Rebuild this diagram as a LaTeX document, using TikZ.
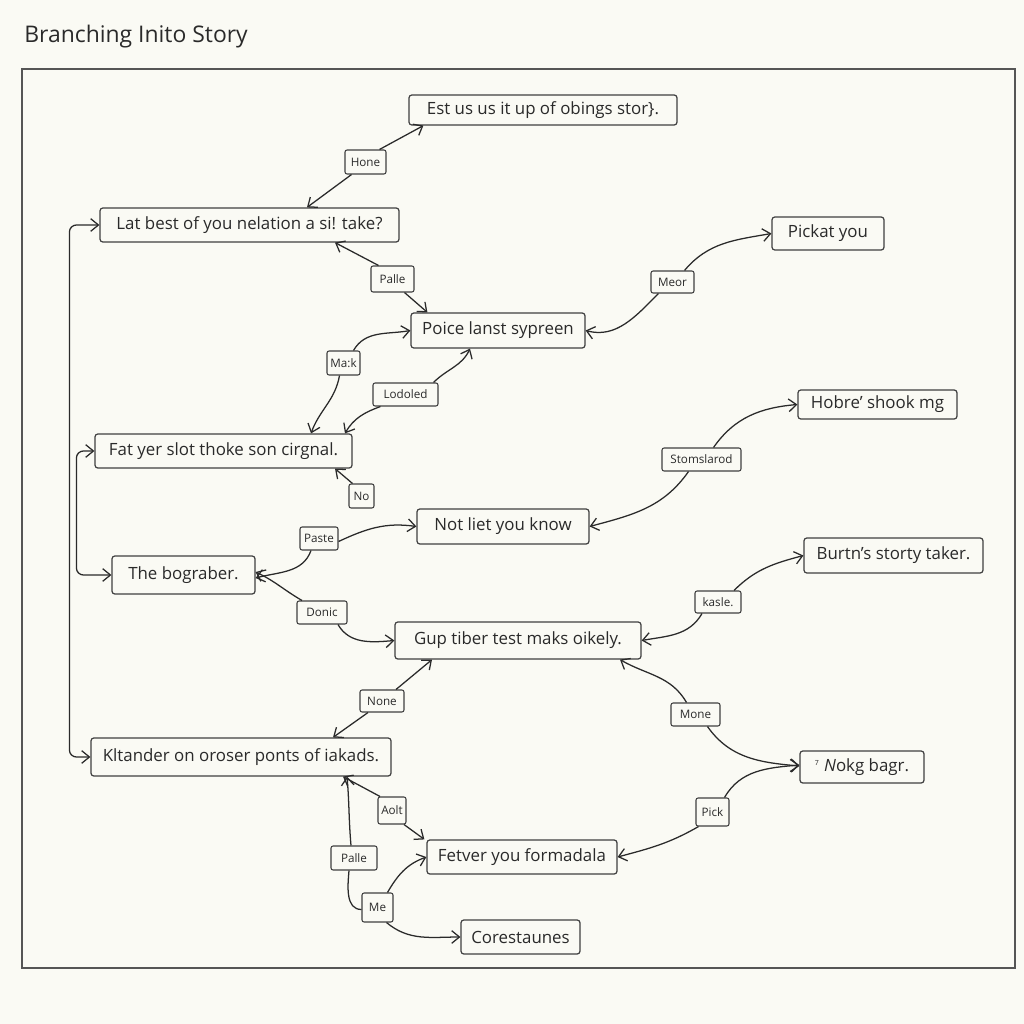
\documentclass[tikz,border=0pt]{standalone}
\usepackage{fontspec}
\setmainfont{Open Sans}
\usetikzlibrary{arrows.meta}
\definecolor{bg}{HTML}{FAFAF4}
\definecolor{ink}{HTML}{2A2A2A}
\newdimen\pxu \pxu=0.025cm
\begin{document}
\begin{tikzpicture}[x=0.025cm,y=-0.025cm,
  box/.style={draw=ink!90, line width=0.85pt, rounded corners=2pt, fill=bg, text=ink, font=\fontsize{12}{14}\selectfont, inner sep=0pt, align=center},
  lbl/.style={draw=ink!90, line width=0.75pt, rounded corners=1.5pt, fill=bg, text=ink, font=\fontsize{8.3}{10}\selectfont, inner sep=0pt},
  arr/.style={draw=ink, line width=0.9pt, -{Straight Barb[length=5.5pt,width=9pt]}},
  darr/.style={draw=ink, line width=0.9pt, {Straight Barb[length=5.5pt,width=9pt]}-{Straight Barb[length=5.5pt,width=9pt]}},
  ln/.style={draw=ink, line width=0.9pt}]
\fill[bg] (0,0) rectangle (1024,1024);
\useasboundingbox (0,0) rectangle (1024,1024);
\node[anchor=west, font=\fontsize{16.3}{19}\selectfont, text=ink, inner sep=0pt] (title) at (24,37) {Branching Inito Story};
\draw[draw=ink!80, line width=0.8pt] (22,69) rectangle (1015,968);

% main boxes
\node[box, minimum width=268\pxu, minimum height=30\pxu] (est) at (543,110) {Est us us it up of obings stor\}.};
\node[box, minimum width=299\pxu, minimum height=34\pxu] (lat) at (249.5,225) {Lat best of you nelation a si! take?};
\node[box, minimum width=112\pxu, minimum height=33\pxu] (pick) at (828,233.5) {Pickat you};
\node[box, minimum width=174\pxu, minimum height=35\pxu] (poice) at (498,330.5) {Poice lanst sypreen};
\node[box, minimum width=257\pxu, minimum height=34\pxu] (fat) at (223.5,451) {Fat yer slot thoke son cirgnal.};
\node[box, minimum width=159\pxu, minimum height=29\pxu] (hobre) at (877.5,404.5) {Hobre' shook mg};
\node[box, minimum width=172\pxu, minimum height=35\pxu] (notl) at (503,526.5) {Not liet you know};
\node[box, minimum width=143\pxu, minimum height=38\pxu] (the) at (183.5,575) {The bograber.};
\node[box, minimum width=179\pxu, minimum height=35\pxu] (burtn) at (893.5,555.5) {Burtn's storty taker.};
\node[box, minimum width=246\pxu, minimum height=37\pxu] (gup) at (518,640.5) {Gup tiber test maks oikely.};
\node[box, minimum width=300\pxu, minimum height=38\pxu] (klt) at (241,757) {Kltander on oroser ponts of iakads.};
\node[box, minimum width=124\pxu, minimum height=32\pxu] (novg) at (862,767) {\textsuperscript{\tiny 7} \textit{N}okg bagr.};
\node[box, minimum width=190\pxu, minimum height=34\pxu] (fet) at (522,857) {Fetver you formadala};
\node[box, minimum width=119\pxu, minimum height=34\pxu] (core) at (520.5,937) {Corestaunes};

% labels
\node[lbl, minimum width=41\pxu, minimum height=24\pxu] (hone) at (365.5,162) {Hone};
\node[lbl, minimum width=43\pxu, minimum height=26\pxu] (palleA) at (392.5,279) {Palle};
\node[lbl, minimum width=43\pxu, minimum height=22\pxu] (meor) at (672.5,282) {Meor};
\node[lbl, minimum width=33\pxu, minimum height=24\pxu] (mark) at (343.5,363) {Ma:k};
\node[lbl, minimum width=65\pxu, minimum height=23\pxu] (lodo) at (405.5,394.5) {Lodoled};
\node[lbl, minimum width=25\pxu, minimum height=24\pxu] (no) at (361.5,496) {No};
\node[lbl, minimum width=79\pxu, minimum height=23\pxu] (stom) at (701.5,459.5) {Stomslarod};
\node[lbl, minimum width=38\pxu, minimum height=23\pxu] (paste) at (319,538.5) {Paste};
\node[lbl, minimum width=50\pxu, minimum height=23\pxu] (donic) at (322,612.5) {Donic};
\node[lbl, minimum width=46\pxu, minimum height=22\pxu] (kasle) at (718,602) {kasle.};
\node[lbl, minimum width=44\pxu, minimum height=22\pxu] (none) at (382,701) {None};
\node[lbl, minimum width=49\pxu, minimum height=23\pxu] (mone) at (695.5,714.5) {Mone};
\node[lbl, minimum width=33\pxu, minimum height=28\pxu] (pickl) at (712.5,812) {Pick};
\node[lbl, minimum width=28\pxu, minimum height=27\pxu] (aolt) at (392,810.5) {Aolt};
\node[lbl, minimum width=46\pxu, minimum height=24\pxu] (palleB) at (354,858) {Palle};
\node[lbl, minimum width=31\pxu, minimum height=29\pxu] (me) at (377.5,907.5) {Me};

% connectors
\draw[arr] ([xshift=-14\pxu]hone.south) -- ([xshift=57.5\pxu]lat.north);
\draw[arr] ([xshift=14\pxu]hone.north) -- ([xshift=15\pxu]est.south west);

\draw[arr] ([xshift=-14\pxu]palleA.north) -- ([xshift=85.5\pxu]lat.south);
\draw[arr] ([xshift=12\pxu]palleA.south) -- ([xshift=17\pxu]poice.north west);

\draw[arr] ([xshift=-14\pxu]meor.south) to[out=-135,in=-15] (poice.east);
\draw[arr] ([xshift=12\pxu]meor.north) to[out=50,in=190] (pick.west);

\draw[arr] ([xshift=10\pxu]mark.north) to[out=60,in=190] (poice.west);
\draw[arr] ([xshift=-4\pxu]mark.south) to[out=-100,in=70] ([xshift=87.5\pxu]fat.north);

\draw[arr] ([xshift=28\pxu]lodo.north) to[out=45,in=-115] ([xshift=-28\pxu]poice.south);
\draw[arr] ([xshift=-25\pxu]lodo.south) to[out=-160,in=60] ([xshift=121.5\pxu]fat.north);

\draw[arr] ([xshift=-9\pxu]no.north) -- ([xshift=111.5\pxu]fat.south);

\draw[arr] ([xshift=12\pxu]stom.north) to[out=55,in=185] (hobre.west);
\draw[arr] ([xshift=-13\pxu]stom.south) to[out=-125,in=15] (notl.east);

\draw[arr] ([yshift=-3\pxu]paste.east) to[out=25,in=172] (notl.west);
\draw[arr] ([xshift=-8\pxu]paste.south) to[out=-110,in=15] ([yshift=-3\pxu]the.east);

\draw[arr] ([xshift=-20\pxu]donic.north) to[out=150,in=-25] ([yshift=3\pxu]the.east);
\draw[arr] ([xshift=16\pxu]donic.south) to[out=-60,in=185] (gup.west);

\draw[arr] ([xshift=16\pxu]kasle.north) to[out=45,in=195] (burtn.west);
\draw[arr] ([xshift=-16\pxu]kasle.south) to[out=-120,in=10] (gup.east);

\draw[arr] ([xshift=14\pxu]none.north) -- ([xshift=-86\pxu]gup.south);
\draw[arr] ([xshift=-14\pxu]none.south) -- ([xshift=92\pxu]klt.north);

\draw[arr] ([xshift=-9\pxu]mone.north) to[out=120,in=-30] ([xshift=102\pxu]gup.south);
\draw[arr] ([xshift=12\pxu]mone.south) to[out=-55,in=175] ([yshift=1\pxu]novg.west);

\draw[arr] ([xshift=12\pxu]pickl.north) to[out=60,in=185] ([yshift=2\pxu]novg.west);
\draw[arr] ([xshift=-14\pxu]pickl.south) to[out=-150,in=15] (fet.east);

\draw[arr] ([xshift=-12\pxu]aolt.north) -- ([xshift=102\pxu]klt.south);
\draw[arr] ([xshift=12\pxu]aolt.south) -- ([xshift=-2\pxu]fet.north west);

\draw[arr] ([xshift=-3\pxu]palleB.north) to[out=95,in=-85] ([xshift=106\pxu]klt.south);
\draw[ln] ([xshift=-5\pxu]palleB.south) to[out=-95,in=180] ([yshift=-2\pxu]me.west);

\draw[arr] ([xshift=10\pxu]me.north) to[out=60,in=200] (fet.west);
\draw[arr] ([xshift=9\pxu]me.south) to[out=-40,in=180] (core.west);

\draw[darr, rounded corners=5pt] (lat.west) -- ([xshift=-30\pxu]lat.west) |- (klt.west);
\draw[darr, rounded corners=5pt] (fat.west) -- ([xshift=-18\pxu]fat.west) |- (the.west);
\end{tikzpicture}
\end{document}
